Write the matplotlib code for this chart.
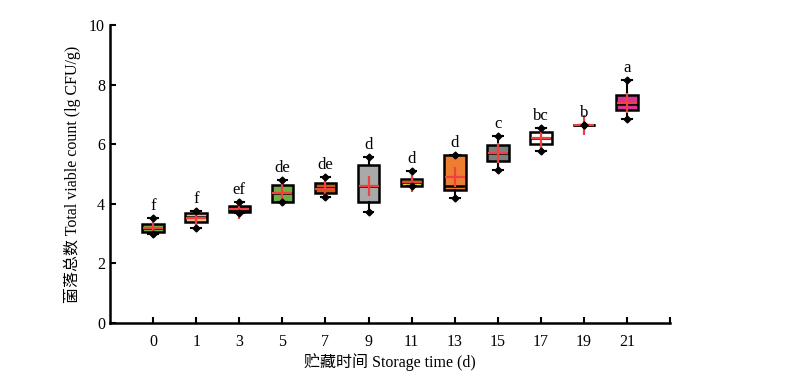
import numpy as np
import matplotlib
matplotlib.use("Agg")
import matplotlib.pyplot as plt

plt.rcParams['font.family'] = ['Liberation Serif', 'Noto Sans CJK SC']

# ============================
# 数据区
# ============================
days = ['0', '1', '3', '5', '7', '9', '11', '13', '15', '17', '19', '21']
whislo = [2.99, 3.19, 3.69, 4.06, 4.23, 3.72, 4.60, 4.19, 5.13, 5.77, 6.64, 6.85]
q1     = [3.05, 3.39, 3.72, 4.06, 4.36, 4.06, 4.60, 4.46, 5.44, 6.00, 6.64, 7.15]
med    = [3.20, 3.55, 3.82, 4.35, 4.53, 4.60, 4.72, 4.60, 5.72, 6.20, 6.64, 7.35]
q3     = [3.32, 3.69, 3.93, 4.63, 4.70, 5.30, 4.83, 5.64, 5.97, 6.41, 6.64, 7.65]
whishi = [3.52, 3.76, 4.06, 4.80, 4.90, 5.57, 5.10, 5.64, 6.27, 6.54, 6.64, 8.15]
means  = [3.20, 3.52, 3.82, 4.38, 4.50, 4.60, 4.75, 4.90, 5.72, 6.20, 6.64, 7.38]
letters = ['f', 'f', 'ef', 'de', 'de', 'd', 'd', 'd', 'c', 'bc', 'b', 'a']
fills = ['#70AD47', '#F4B183', '#222222', '#70AD47', '#C55A11', '#A9A9A9',
         '#D4D23A', '#ED7D31', '#7F7F7F', '#FFFFFF', '#FFFFFF', '#D63594']

# ============================
# 绘图
# ============================
fig = plt.figure(figsize=(7.97, 3.78), dpi=100)
ax = fig.add_axes([0.138, 0.1455, 0.703, 0.788])

stats = []
for i in range(len(days)):
    stats.append({'whislo': whislo[i], 'q1': q1[i], 'med': med[i],
                  'q3': q3[i], 'whishi': whishi[i], 'mean': means[i],
                  'fliers': [], 'label': days[i]})

pos = np.arange(1, len(days) + 1)
bp = ax.bxp(stats, positions=pos, widths=0.5, patch_artist=True,
            showmeans=True, showfliers=False,
            boxprops=dict(edgecolor='black', linewidth=1.8),
            medianprops=dict(color='black', linewidth=1.8),
            whiskerprops=dict(color='black', linewidth=1.5),
            capprops=dict(color='black', linewidth=1.5),
            meanprops=dict(marker='+', markersize=15, markeredgecolor='#F04040',
                           markeredgewidth=1.6), capwidths=0.22)
for patch, c in zip(bp['boxes'], fills):
    patch.set_facecolor(c)

# 须端的黑色菱形
ax.plot(pos, whislo, 'D', color='black', markersize=3.5, zorder=4)
ax.plot(pos, whishi, 'D', color='black', markersize=3.5, zorder=4)

# 显著性字母
for p, top, s in zip(pos, whishi, letters):
    ax.text(p, top + 0.15, s, ha='center', va='bottom', fontsize=12)

ax.set_xlim(0, 13)
ax.set_ylim(0, 10)
ax.set_yticks(np.arange(0, 11, 2))
ax.set_xticks(pos)
ax.set_xticks([13], minor=True)
ax.set_xticklabels(days)
ax.tick_params(direction='in', length=4, width=1.5, labelsize=11.5)
ax.tick_params(axis='x', which='minor', direction='in', length=4, width=1.5)
ax.tick_params(axis='x', pad=8)
ax.spines['top'].set_visible(False)
ax.spines['right'].set_visible(False)
ax.spines['left'].set_linewidth(1.8)
ax.spines['bottom'].set_linewidth(1.8)
ax.set_xlabel('贮藏时间 Storage time (d)', fontsize=11.5, labelpad=2)
ax.set_ylabel('菌落总数 Total viable count (lg CFU/g)', fontsize=11.5, labelpad=6)

fig.savefig('out.png', dpi=100)
